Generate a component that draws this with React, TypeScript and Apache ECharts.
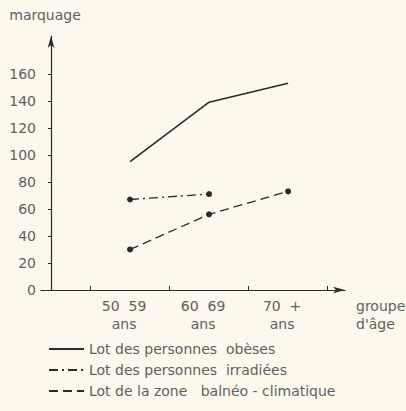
import React, { useEffect, useRef } from "react";
import * as echarts from "echarts";

const ageGroups = ["50  59\nans", "60  69\nans", "70  +\nans"];
const groupPositions = [1, 2, 3];
const yTickLabels = [0, 20, 40, 60, 80, 100, 120, 140, 160];
const obeses = [95, 139, 153];
const irradiees = [67, 71, null];
const balneo = [30, 56, 73];
const seriesNames = [
  "Lot des personnes  obèses",
  "Lot des personnes  irradiées",
  "Lot de la zone   balnéo - climatique",
];

const INK = "#2a2a2a";
const TXT = "#5f5f5f";
const FONT = "DejaVu Sans";

export default function App() {
  const ref = useRef<HTMLDivElement>(null);
  useEffect(() => {
    document.body.style.margin = "0";
    const chart = echarts.init(ref.current!, null, { renderer: "svg" });
    const toPairs = (arr: (number | null)[]) =>
      arr.map((v, i) => [groupPositions[i], v]).filter((p) => p[1] !== null);
    chart.setOption({
      animation: false,
      backgroundColor: "#fcf8ec",
      grid: { left: 41, top: 36, right: 61, bottom: 121 },
      xAxis: {
        type: "value",
        min: -0.127,
        max: 3.72,
        splitLine: { show: false },
        axisLine: {
          lineStyle: { color: INK, width: 1.2 },
          symbol: ["none", "arrow"],
          symbolSize: [5, 12],
        },
        axisTick: {
          show: true,
          length: 4,
          inside: true,
          customValues: [0.5, 1.5, 2.5, 3.5],
          lineStyle: { color: INK },
        },
        axisLabel: {
          customValues: groupPositions,
          formatter: (v: number) => ageGroups[groupPositions.indexOf(Math.round(v))] ?? "",
          color: TXT,
          fontFamily: FONT,
          fontSize: 14,
          lineHeight: 18,
          margin: 7,
          padding: [0, 12, 0, 0],
        },
      },
      yAxis: {
        type: "value",
        min: 0,
        max: 188,
        name: "marquage",
        nameLocation: "end",
        nameGap: 14,
        nameTextStyle: { color: TXT, fontFamily: FONT, fontSize: 14, padding: [0, 12, 0, 0] },
        splitLine: { show: false },
        axisLine: {
          show: true,
          lineStyle: { color: INK, width: 1.2 },
          symbol: ["none", "arrow"],
          symbolSize: [5, 12],
        },
        axisTick: {
          show: true,
          length: 3,
          customValues: yTickLabels,
          lineStyle: { color: INK },
        },
        axisLabel: {
          customValues: yTickLabels,
          color: TXT,
          fontFamily: FONT,
          fontSize: 14,
          margin: 5,
        },
      },
      legend: {
        orient: "vertical",
        left: 43,
        top: 337,
        itemWidth: 35,
        itemHeight: 12,
        itemGap: 7,
        itemStyle: { opacity: 0 },
        textStyle: { color: TXT, fontFamily: FONT, fontSize: 14 },
        data: seriesNames,
      },
      graphic: [
        {
          type: "text",
          left: 356,
          top: 297,
          style: {
            text: "groupe\nd'âge",
            fill: TXT,
            font: `14px "${FONT}"`,
            lineHeight: 18,
            align: "center",
          },
        },
      ],
      series: [
        {
          name: seriesNames[0],
          type: "line",
          data: toPairs(obeses),
          symbol: "none",
          lineStyle: { color: INK, width: 1.6, type: "solid" },
          itemStyle: { color: INK },
        },
        {
          name: seriesNames[1],
          type: "line",
          data: toPairs(irradiees),
          symbol: "circle",
          symbolSize: 6,
          lineStyle: { color: INK, width: 1.3, type: [9, 4, 2, 4] },
          itemStyle: { color: INK },
        },
        {
          name: seriesNames[2],
          type: "line",
          data: toPairs(balneo),
          symbol: "circle",
          symbolSize: 6,
          lineStyle: { color: INK, width: 1.3, type: [9, 5] },
          itemStyle: { color: INK },
        },
      ],
    });
    return () => chart.dispose();
  }, []);
  return (
    <div
      ref={ref}
      style={{ position: "absolute", left: 0, top: 0, width: 406, height: 411 }}
    />
  );
}
